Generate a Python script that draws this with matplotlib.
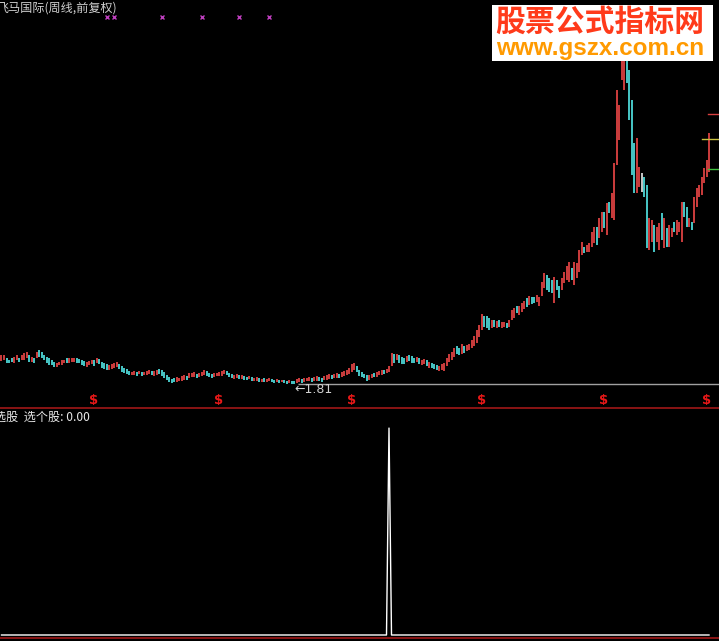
"""Weekly candle chart with a stock-pick signal panel (black terminal style)."""

import matplotlib

matplotlib.use("Agg")

import matplotlib.pyplot as plt  # noqa: E402
from matplotlib.lines import Line2D  # noqa: E402
from matplotlib.patches import Rectangle  # noqa: E402

plt.rcParams["font.family"] = ["Noto Sans CJK SC", "DejaVu Sans"]

# ---------------------------------------------------------------------------
# Data (weekly bars, forward-adjusted prices)
# ---------------------------------------------------------------------------

highs = [
    4.7, 4.7, 4.4, 4.2, 4.4, 4.5, 4.7, 4.4, 4.7, 4.9,
    5.0, 4.7, 4.5, 4.4, 5.0, 5.2, 5.0, 4.7, 4.5, 4.4,
    4.2, 4.0, 3.9, 4.0, 4.2, 4.2, 4.4, 4.4, 4.4, 4.4,
    4.4, 4.3, 4.2, 4.1, 4.0, 4.1, 4.2, 4.2, 4.4, 4.3,
    4.0, 3.9, 3.8, 3.7, 3.8, 3.9, 4.0, 3.8, 3.6, 3.4,
    3.3, 3.1, 3.0, 3.1, 3.0, 3.1, 3.0, 3.0, 3.1, 3.2,
    3.1, 3.1, 3.2, 3.3, 3.2, 3.0, 2.7, 2.5, 2.3, 2.4,
    2.5, 2.4, 2.6, 2.7, 2.6, 2.9, 2.9, 3.0, 2.8, 2.9,
    3.0, 3.2, 3.1, 2.9, 2.8, 2.9, 2.9, 3.0, 3.1, 3.2,
    3.1, 2.9, 2.8, 2.7, 2.8, 2.7, 2.7, 2.6, 2.5, 2.6,
    2.5, 2.4, 2.5, 2.4, 2.3, 2.4, 2.3, 2.4, 2.3, 2.2,
    2.3, 2.2, 2.2, 2.2, 2.1, 2.2, 2.1, 2.1, 2.3, 2.4,
    2.3, 2.4, 2.4, 2.5, 2.4, 2.5, 2.6, 2.5, 2.4, 2.6,
    2.7, 2.8, 2.7, 2.8, 2.9, 2.8, 3.0, 3.1, 3.2, 3.4,
    3.8, 3.9, 3.6, 3.2, 3.0, 2.8, 2.7, 2.7, 2.8, 2.9,
    3.0, 3.1, 3.2, 3.2, 3.3, 3.6, 4.9, 4.8, 4.8, 4.7,
    4.5, 4.4, 4.6, 4.7, 4.6, 4.4, 4.5, 4.4, 4.2, 4.3,
    4.2, 4.0, 3.9, 3.8, 3.7, 3.6, 3.8, 3.9, 4.4, 4.8,
    5.0, 5.4, 5.6, 5.4, 5.8, 5.6, 5.7, 5.8, 6.2, 6.6,
    7.2, 7.7, 8.8, 8.6, 8.6, 8.4, 8.2, 8.2, 8.1, 8.2,
    8.0, 8.0, 7.9, 8.2, 9.2, 9.4, 9.6, 9.6, 9.9, 10.1,
    10.4, 10.6, 10.5, 10.5, 10.7, 10.5, 12.0, 12.9, 12.7, 12.4,
    12.2, 12.5, 12.2, 11.6, 12.4, 13.0, 13.6, 14.0, 13.4, 14.0,
    13.9, 15.2, 16.0, 15.5, 15.7, 15.9, 17.0, 17.5, 17.5, 18.4,
    19.0, 19.0, 19.9, 20.0, 20.9, 23.9, 31.2, 29.7, 35.2, 35.2,
    34.7, 33.2, 30.2, 25.9, 26.4, 23.5, 22.9, 22.5, 21.7, 18.4,
    18.2, 17.7, 17.5, 17.9, 18.9, 18.4, 17.4, 17.7, 17.4, 18.0,
    18.2, 18.0, 20.0, 20.0, 19.5, 18.4, 18.0, 20.5, 21.4, 21.7,
    22.5, 23.4, 24.2, 26.9,
]

lows = [
    4.1, 4.2, 3.9, 3.9, 4.0, 3.9, 4.2, 4.0, 4.2, 4.2,
    4.4, 4.0, 4.0, 3.9, 4.4, 4.5, 4.4, 4.2, 3.9, 3.7,
    3.7, 3.5, 3.5, 3.7, 3.7, 3.9, 3.9, 3.9, 4.0, 4.0,
    3.9, 3.9, 3.7, 3.6, 3.5, 3.7, 3.8, 3.6, 3.9, 3.8,
    3.4, 3.3, 3.2, 3.2, 3.3, 3.4, 3.5, 3.3, 3.0, 2.9,
    2.8, 2.7, 2.7, 2.7, 2.6, 2.8, 2.6, 2.7, 2.7, 2.8,
    2.7, 2.6, 2.7, 2.8, 2.6, 2.4, 2.2, 2.0, 1.9, 2.0,
    2.0, 2.1, 2.1, 2.2, 2.2, 2.4, 2.5, 2.5, 2.4, 2.5,
    2.6, 2.7, 2.6, 2.5, 2.4, 2.5, 2.6, 2.6, 2.6, 2.8,
    2.7, 2.5, 2.4, 2.3, 2.4, 2.3, 2.3, 2.2, 2.2, 2.3,
    2.1, 2.1, 2.1, 2.0, 2.0, 2.0, 2.0, 2.1, 2.0, 1.9,
    2.0, 1.9, 2.0, 1.9, 1.85, 1.9, 1.85, 1.81, 1.9, 2.0,
    1.9, 2.0, 2.1, 2.1, 2.0, 2.1, 2.1, 2.1, 2.0, 2.2,
    2.2, 2.3, 2.3, 2.4, 2.4, 2.4, 2.5, 2.6, 2.7, 2.8,
    3.0, 3.2, 3.0, 2.6, 2.5, 2.4, 2.1, 2.2, 2.4, 2.5,
    2.5, 2.7, 2.7, 2.8, 2.9, 3.0, 3.6, 3.9, 4.2, 3.9,
    3.8, 3.8, 4.0, 4.1, 3.9, 3.9, 4.0, 3.8, 3.7, 3.8,
    3.6, 3.4, 3.4, 3.3, 3.2, 3.1, 3.2, 3.1, 3.6, 4.0,
    4.2, 4.5, 4.8, 4.7, 4.8, 4.9, 5.1, 5.2, 5.4, 5.6,
    5.9, 6.5, 7.2, 7.5, 7.4, 7.2, 7.4, 7.5, 7.4, 7.5,
    7.4, 7.5, 7.4, 7.5, 8.2, 8.4, 8.9, 8.7, 9.0, 9.3,
    9.5, 9.7, 9.8, 9.9, 10.0, 9.6, 10.6, 11.4, 11.2, 11.0,
    10.9, 9.9, 11.2, 10.4, 11.2, 11.9, 12.2, 12.0, 12.2, 11.7,
    12.4, 13.0, 14.7, 14.9, 15.0, 15.0, 15.5, 15.9, 15.7, 16.4,
    17.0, 17.4, 16.7, 18.9, 18.4, 18.2, 23.7, 26.2, 32.2, 31.2,
    31.9, 28.2, 22.7, 20.9, 20.9, 21.5, 21.0, 20.5, 15.4, 15.2,
    16.0, 15.0, 16.0, 15.2, 16.2, 15.4, 15.5, 15.5, 16.5, 17.0,
    16.7, 17.0, 16.0, 18.5, 17.5, 17.5, 17.2, 17.9, 19.5, 20.5,
    20.7, 21.9, 22.5, 23.0,
]

# r = up week, c = down week, w = flat (doji)
direction = (
    "rrcccrrcrr" "rcrcrccccc" "ccrrrrcrrr" "ccccrrrcrc" "cccrrrrccc"
    "ccrrcrcrrr" "crrccccccc" "rrrrcrrrcr" "rrcccrrrrr" "cccrrcrccr"
    "crrcrcrrcc" "rcrccrccrr" "crrrcrrccr" "rrcrrcrrrr" "rrcccccrrc"
    "rrrcrrrcrc" "ccrcccrcrr" "crcccrrrrr" "rrccrcrrrr" "rrrcccrcrc"
    "rrcrrrcrrr" "crccrrrrcc" "crccrrrrcr" "rrrcrrrrcr" "rcrcrrrrrr"
    "ccccrrwccr" "rcrrcrcrrc" "rrrccrcrrr" "rrrr"
)

cross_marks = [42, 45, 64, 80, 95, 107]        # magenta x signals
dollar_marks = [37, 87, 140, 192, 241, 282]    # red $ signals
pick_bars = [155]                              # 选个股 = 1
level_prices = [28.8, 26.3, 23.3]              # right-edge price ticks
level_colors = ["#d84040", "#c8c040", "#40c040"]
level_starts = [0.985, 0.976, 0.985]

title = "飞马国际(周线,前复权)"
pick_label = "选股  选个股: 0.00"

# ---------------------------------------------------------------------------
# Style
# ---------------------------------------------------------------------------

_BG = "#000000"
_UP = "#f04848"
_DOWN = "#54e8e8"
_FLAT = "#e8e8e8"
_FRAME = "#a01818"
_TEXT = "#d0d0d0"

W, H = 719, 641
fig = plt.figure(figsize=(W / 100, H / 100), dpi=100)
fig.patch.set_facecolor(_BG)

split = (H - 408) / H
ax = fig.add_axes([0, split, 1, 1 - split])
ax_sig = fig.add_axes([0, 0, 1, split])
for a in (ax, ax_sig):
    a.set_facecolor(_BG)
    a.set_axis_off()

n = len(highs)
xs = list(range(n))
colors = [{"r": _UP, "c": _DOWN, "w": _FLAT}[d] for d in direction]

# ---- price panel ----
ax.vlines(xs, lows, highs, colors=colors, linewidth=1.2)
ax.set_xlim(-0.6, 287)
ax.set_ylim(-0.6, 40.2)

low_idx = min(range(n), key=lambda i: lows[i])
low_val = lows[low_idx]
ax.hlines(low_val, low_idx + 1.6, 287, color="#a0a0a0", linewidth=1.0)
ax.text(low_idx + 0.2, low_val - 0.6, f"←{low_val:.2f}", color=_TEXT,
        fontsize=9, family="DejaVu Sans", va="center", ha="left")

ax.plot(cross_marks, [38.5] * len(cross_marks), linestyle="none",
        marker="x", markersize=3.5, markeredgewidth=1.0, color="#c040c0")
for i in dollar_marks:
    ax.text(i, 0.15, "$", color="#e81818", fontsize=9.5, fontweight="bold",
            family="DejaVu Sans", ha="center", va="center")

for price, col, start in zip(level_prices, level_colors, level_starts):
    ax.axhline(price, xmin=start, xmax=1, color=col, linewidth=1.0)

# ---- signal panel ----
signal = [1 if i in pick_bars else 0 for i in xs]
ax_sig.plot(xs, signal, color="white", linewidth=1.0)
ax_sig.set_xlim(-0.6, 287)
ax_sig.set_ylim(-0.029, 1.097)

# ---- frame lines ----
fig.add_artist(Line2D([0, 1], [split, split], color=_FRAME, linewidth=1.2))
fig.add_artist(Line2D([0, 1], [(H - 638) / H] * 2, color=_FRAME, linewidth=1.2))

fig.text(-4 / W, 1 - 8 / H, title, color=_TEXT, fontsize=8.7, va="center")
fig.text(-6 / W, 1 - 417 / H, pick_label, color="#e8e8e8", fontsize=8.7,
         va="center")

# ---- watermark ----
fig.add_artist(Rectangle((492 / W, 1 - 61 / H), 221 / W, 56 / H,
                         transform=fig.transFigure, facecolor="white",
                         edgecolor="none", zorder=10))
fig.text(600 / W, 1 - 22 / H, "股票公式指标网", color="#ff3a1a", fontsize=21.5,
         fontweight="bold", ha="center", va="center", zorder=11)
fig.text(600 / W, 1 - 48 / H, "www.gszx.com.cn", color="#ff9a00",
         fontsize=17.5, fontweight="bold", family="Liberation Sans",
         ha="center", va="center", zorder=11)

fig.savefig("out.png", dpi=100, facecolor=_BG)
plt.close(fig)
